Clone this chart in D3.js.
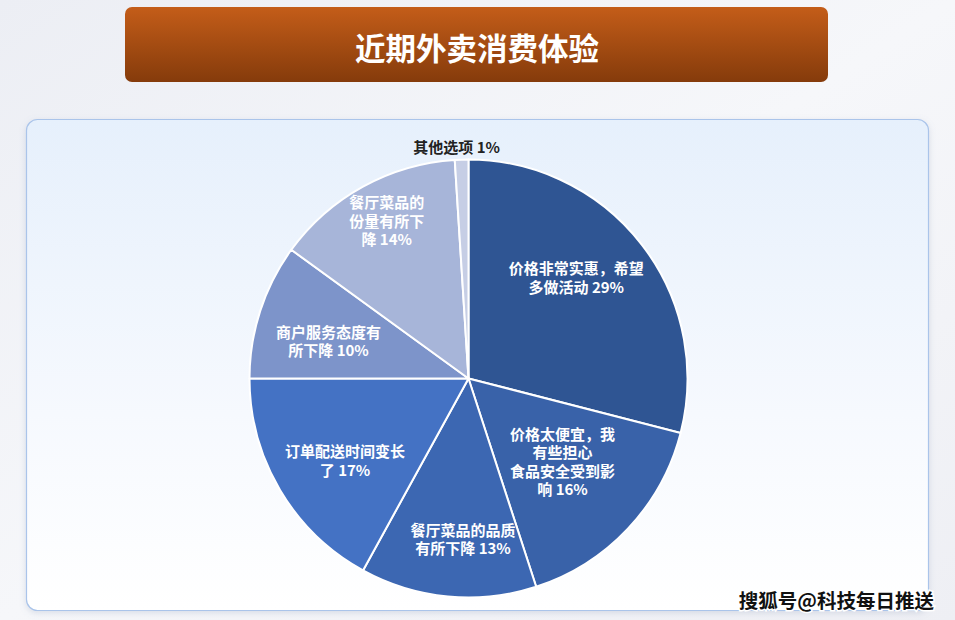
<!DOCTYPE html>
<html><head><meta charset="utf-8">
<script src="https://cdn.jsdelivr.net/npm/d3@7"></script>
<style>
html,body{margin:0;padding:0;background:#f1f2f6;}
svg{display:block;}
</style></head>
<body>
<svg id="c" width="955" height="620"></svg>
<script>
const title = "近期外卖消费体验";
const categories = [
  "价格非常实惠，希望\n多做活动",
  "价格太便宜，我\n有些担心\n食品安全受到影\n响",
  "餐厅菜品的品质\n有所下降",
  "订单配送时间变长\n了",
  "商户服务态度有\n所下降",
  "餐厅菜品的\n份量有所下\n降",
  "其他选项"
];
const values = [29, 16, 13, 17, 10, 14, 1];
const colors = ["#2f5593", "#3962a9", "#3c67b2", "#4472c4", "#7d94ca", "#a7b5d9", "#c6cee5"];
const watermark = "搜狐号@科技每日推送";

const svg = d3.select("#c");
const defs = svg.append("defs");

// page background
const bg = defs.append("linearGradient").attr("id","bg").attr("x1",0).attr("y1",0).attr("x2",1).attr("y2",1);
bg.append("stop").attr("offset","0%").attr("stop-color","#eceef4");
bg.append("stop").attr("offset","50%").attr("stop-color","#f6f7fa");
bg.append("stop").attr("offset","100%").attr("stop-color","#eeeff4");
svg.append("rect").attr("width",955).attr("height",620).attr("fill","url(#bg)");

// title banner
const tg = defs.append("linearGradient").attr("id","tg").attr("x1",0).attr("y1",0).attr("x2",0).attr("y2",1);
tg.append("stop").attr("offset","0%").attr("stop-color","#c45d19");
tg.append("stop").attr("offset","100%").attr("stop-color","#853b0b");
svg.append("rect").attr("x",125).attr("y",7).attr("width",703).attr("height",75).attr("rx",7).attr("fill","url(#tg)");
svg.append("text").attr("x",477).attr("y",47).attr("text-anchor","middle").attr("dominant-baseline","central")
  .attr("font-family","'Noto Sans CJK SC', sans-serif").attr("font-weight","bold").attr("font-size",30.5)
  .attr("fill","#ffffff").text(title);

// panel
const pg = defs.append("linearGradient").attr("id","pg").attr("x1",0).attr("y1",0).attr("x2",0).attr("y2",1);
pg.append("stop").attr("offset","0%").attr("stop-color","#e6f0fc");
pg.append("stop").attr("offset","60%").attr("stop-color","#f6f9fe");
pg.append("stop").attr("offset","100%").attr("stop-color","#ffffff");
const sh = defs.append("filter").attr("id","sh").attr("x","-5%").attr("y","-5%").attr("width","110%").attr("height","110%");
sh.append("feDropShadow").attr("dx",0).attr("dy",2).attr("stdDeviation",3).attr("flood-color","#8090b0").attr("flood-opacity",0.25);
svg.append("rect").attr("x",26.5).attr("y",119.5).attr("width",902).attr("height",491).attr("rx",11)
  .attr("fill","url(#pg)").attr("stroke","#aac4ea").attr("stroke-width",1.2).attr("filter","url(#sh)");

// pie
const cx = 468.5, cy = 378.5, R = 219;
const g = svg.append("g").attr("transform",`translate(${cx},${cy})`);
const data = categories.map((c,i)=>({name:c, value:values[i], color:colors[i]}));
const pie = d3.pie().value(d=>d.value).sort(null).startAngle(0).endAngle(2*Math.PI);
const arcs = pie(data);
const arc = d3.arc().innerRadius(0).outerRadius(R);
g.selectAll("path").data(arcs).join("path")
  .attr("d",arc).attr("fill",d=>d.data.color)
  .attr("stroke","#ffffff").attr("stroke-width",2).attr("stroke-linejoin","round");

// labels
const labelR = [148, 125, 160, 148, 145, 178, 232];
const angleShift = [-0.095, -0.035, -0.06, -0.05, -0.05, 0.025, -0.02];
const lh = 18.5;
arcs.forEach((a,i)=>{
  const mid = (a.startAngle + a.endAngle)/2 + angleShift[i];
  const r = labelR[i];
  const x = Math.sin(mid)*r, y = -Math.cos(mid)*r;
  const lines = a.data.name.split("\n");
  lines[lines.length-1] += " " + a.data.value + "%";
  const outside = i === arcs.length-1;
  const t = g.append("text").attr("text-anchor","middle")
    .attr("font-family","'Noto Sans CJK SC', sans-serif").attr("font-weight","bold").attr("font-size",15)
    .attr("fill", outside ? "#222222" : "#ffffff");
  const y0 = y - (lines.length-1)*lh/2;
  lines.forEach((ln,j)=>{
    t.append("tspan").attr("x",x).attr("y",y0 + j*lh).attr("dominant-baseline","central").text(ln);
  });
});

// watermark
svg.append("text").attr("x",934).attr("y",599).attr("text-anchor","end").attr("dominant-baseline","central")
  .attr("font-family","'Noto Sans CJK SC', sans-serif").attr("font-weight","bold").attr("font-size",19.5)
  .attr("fill","#111111").attr("stroke","#ffffff").attr("stroke-width",3).attr("paint-order","stroke")
  .text(watermark);
</script>
</body></html>
